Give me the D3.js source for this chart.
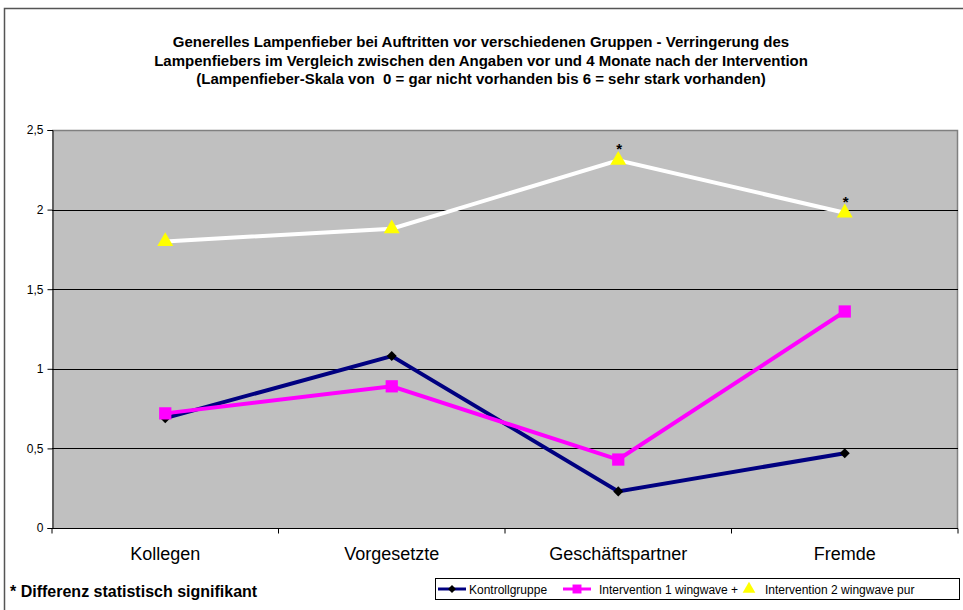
<!DOCTYPE html>
<html><head><meta charset="utf-8">
<script src="https://cdn.jsdelivr.net/npm/d3@7"></script>
<style>body{margin:0;background:#fff}svg{display:block}text{font-family:"Liberation Sans",Arial,sans-serif;white-space:pre}</style>
</head><body>
<svg id="c" width="963" height="610"></svg>
<script>
const categories = ["Kollegen","Vorgesetzte","Geschäftspartner","Fremde"];
const kontroll = [0.69, 1.08, 0.23, 0.47];
const intervention1 = [0.72, 0.89, 0.43, 1.36];
const intervention2 = [1.80, 1.88, 2.31, 1.98];
const significant = [false, false, true, true];
const yTicks = [0, 0.5, 1, 1.5, 2, 2.5];
const titleLines = [
  "Generelles Lampenfieber bei Auftritten vor verschiedenen Gruppen - Verringerung des",
  "Lampenfiebers im Vergleich zwischen den Angaben vor und 4 Monate nach der Intervention",
  "(Lampenfieber-Skala von  0 = gar nicht vorhanden bis 6 = sehr stark vorhanden)"
];
const seriesNames = ["Kontrollgruppe","Intervention 1 wingwave +","Intervention 2 wingwave pur"];

const svg = d3.select("#c");
svg.append("rect").attr("x",4.5).attr("y",8.5).attr("width",970).attr("height",620)
  .attr("fill","#fff").attr("stroke","#555").attr("stroke-width",1.5);

const L=52, R=958, T=130, B=528;
const x = d3.scaleBand().domain(categories).range([L,R]).padding(0);
const y = d3.scaleLinear().domain([0,2.5]).range([B,T]);
const cx = c => x(c)+x.bandwidth()/2;

svg.append("rect").attr("x",L).attr("y",T).attr("width",R-L).attr("height",B-T).attr("fill","#c0c0c0");
svg.append("path").attr("d",`M${L},${T+0.5}H${R-0.5}V${B}`).attr("fill","none").attr("stroke","#808080").attr("stroke-width",1.5);
svg.append("g").selectAll("line").data(yTicks.filter(t=>t>0&&t<2.5)).join("line")
  .attr("x1",L).attr("x2",R).attr("y1",d=>Math.round(y(d))+0.5).attr("y2",d=>Math.round(y(d))+0.5)
  .attr("stroke","#000").attr("stroke-width",1);

const ya = svg.append("g").attr("transform",`translate(${L+0.5},0)`)
  .call(d3.axisLeft(y).tickValues(yTicks).tickSize(5).tickPadding(4).tickFormat(d=>String(d).replace(".",",")));
ya.select(".domain").attr("stroke","#000");
ya.selectAll("text").attr("font-size",12).attr("fill","#000").attr("font-family","Liberation Sans, Arial, sans-serif");
const xa = svg.append("g").attr("transform",`translate(0,${B+0.5})`);
xa.append("line").attr("x1",L).attr("x2",R).attr("stroke","#000");
xa.selectAll("line.t").data(d3.range(categories.length+1)).join("line").attr("class","t")
  .attr("x1",i=>L+i*x.bandwidth()).attr("x2",i=>L+i*x.bandwidth()).attr("y1",0).attr("y2",5).attr("stroke","#000");
xa.selectAll("text").data(categories).join("text").attr("x",d=>cx(d)).attr("y",31)
  .attr("text-anchor","middle").attr("font-size",18).text(d=>d);

const line = d3.line().x((d,i)=>cx(categories[i])).y(d=>y(d));
svg.append("path").datum(intervention2).attr("d",line).attr("fill","none").attr("stroke","#fff").attr("stroke-width",4);
svg.append("path").datum(kontroll).attr("d",line).attr("fill","none").attr("stroke","#000080").attr("stroke-width",4);
svg.append("path").datum(intervention1).attr("d",line).attr("fill","none").attr("stroke","#ff00ff").attr("stroke-width",4);

const diamond = d3.symbol().type(d3.symbolDiamond2).size(64);
const square = d3.symbol().type(d3.symbolSquare).size(150);
const tri = d3.symbol().type(d3.symbolTriangle).size(110);
svg.append("g").selectAll("path").data(kontroll).join("path")
  .attr("d",diamond).attr("transform",(d,i)=>`translate(${cx(categories[i])},${y(d)})`).attr("fill","#000");
svg.append("g").selectAll("path").data(intervention1).join("path")
  .attr("d",square).attr("transform",(d,i)=>`translate(${cx(categories[i])},${y(d)})`).attr("fill","#ff00ff");
svg.append("g").selectAll("path").data(intervention2).join("path")
  .attr("d",tri).attr("transform",(d,i)=>`translate(${cx(categories[i])},${y(d)})`).attr("fill","#ffff00");
svg.append("g").selectAll("text").data(intervention2.map((v,i)=>({v,i})).filter(d=>significant[d.i])).join("text")
  .attr("x",d=>cx(categories[d.i])+1).attr("y",d=>y(d.v)-6).attr("text-anchor","middle").attr("font-size",15).attr("font-weight","bold").text("*");

svg.append("g").selectAll("text").data(titleLines).join("text")
  .attr("x",481).attr("y",(d,i)=>47+i*18.5).attr("text-anchor","middle")
  .attr("font-size",15).attr("font-weight","bold").text(d=>d);

svg.append("text").attr("x",10).attr("y",597).attr("font-size",16).attr("font-weight","bold").text("* Differenz statistisch signifikant");

const lg = svg.append("g");
lg.append("rect").attr("x",435.5).attr("y",578.5).attr("width",524).attr("height",21).attr("fill","#fff").attr("stroke","#000");
const lx = [438, 563, 735];
const tx = [469, 599, 765];
const cols = ["#000080","#ff00ff",null];
const syms = [d3.symbol().type(d3.symbolDiamond2).size(40), d3.symbol().type(d3.symbolSquare).size(80), d3.symbol().type(d3.symbolTriangle).size(70)];
const fills = ["#000","#ff00ff","#ffff00"];
seriesNames.forEach((n,i)=>{
  const my = 589;
  if (cols[i]) lg.append("line").attr("x1",lx[i]).attr("x2",lx[i]+28).attr("y1",my).attr("y2",my).attr("stroke",cols[i]).attr("stroke-width",3);
  lg.append("path").attr("d",syms[i]).attr("transform",`translate(${lx[i]+14},${my})`).attr("fill",fills[i]);
  lg.append("text").attr("x",tx[i]).attr("y",my+4.5).attr("font-size",12).text(n);
});
</script>
</body></html>
